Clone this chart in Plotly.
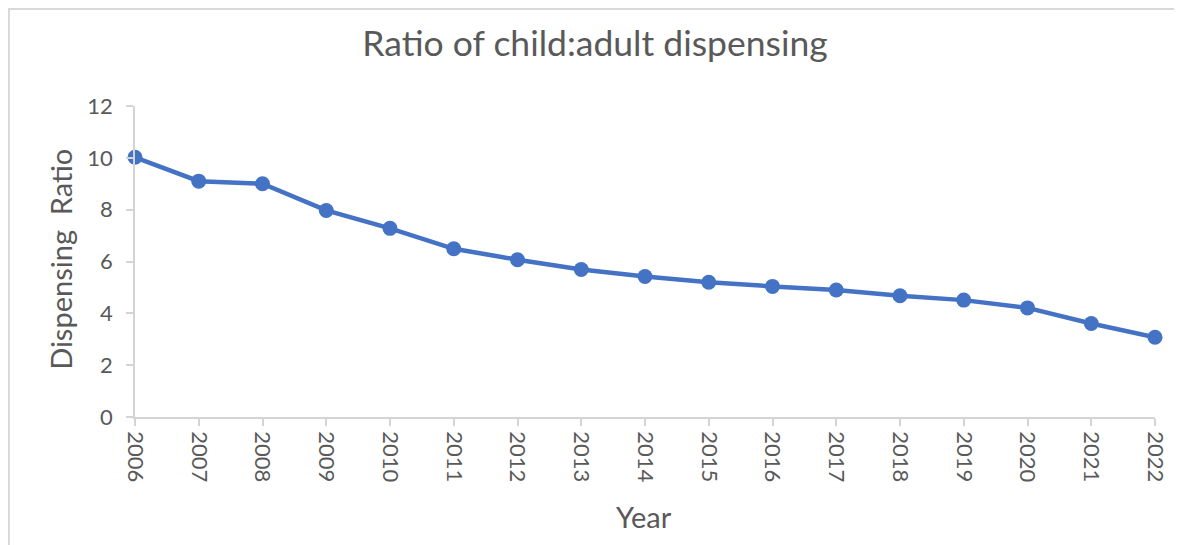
import plotly.graph_objects as go

years = [2006, 2007, 2008, 2009, 2010, 2011, 2012, 2013, 2014, 2015, 2016,
         2017, 2018, 2019, 2020, 2021, 2022]
ratio = [10.02, 9.10, 9.00, 7.97, 7.28, 6.49, 6.07, 5.69, 5.42, 5.20, 5.04,
         4.90, 4.68, 4.51, 4.21, 3.61, 3.08]
y_ticks = [0, 2, 4, 6, 8, 10, 12]

OFF = 8  # page body margin
W, H = 1182 - OFF, 545 - OFF
L = 135 - OFF
T = 106 - OFF
R = W - (1155 - OFF)
B = H - (417.3 - OFF)
pw = W - L - R
ph = H - T - B


def px(page_x):
    return (page_x - OFF - L) / pw


def py(page_y):
    return (H - B - (page_y - OFF)) / ph


font_family = "Lato, 'Open Sans', sans-serif"
txt = "#595959"
axis_grey = "#D4D4D4"

fig = go.Figure()
fig.add_trace(go.Scatter(
    x=years, y=ratio, mode="lines+markers",
    line=dict(color="#4472C4", width=4.5),
    marker=dict(color="#4472C4", size=15),
    cliponaxis=False, showlegend=False,
))

fig.update_layout(
    width=W, height=H,
    margin=dict(l=L, r=R, t=T, b=B),
    paper_bgcolor="white", plot_bgcolor="white",
    font=dict(family=font_family, color=txt),
    title=dict(text="Ratio of child:adult dispensing", x=(595 - OFF) / W, xanchor="center",
               y=1 - (44 - OFF) / H, yanchor="middle", yref="container",
               font=dict(size=35.5, color=txt, family=font_family)),
    xaxis=dict(
        range=[years[0], years[-1]], tickmode="array", tickvals=years,
        ticktext=[str(y) for y in years], tickangle=90,
        showgrid=False, zeroline=False, showline=True, linecolor=axis_grey, linewidth=1.5,
        ticks="outside", ticklen=7, tickcolor=axis_grey, tickwidth=1.5,
        tickfont=dict(size=22, color=txt), ticklabelstandoff=1,
    ),
    yaxis=dict(
        range=[0, 12], tickmode="array", tickvals=y_ticks,
        showgrid=False, zeroline=False, showline=True, linecolor=axis_grey, linewidth=1.5,
        ticks="outside", ticklen=7, tickcolor=axis_grey, tickwidth=1.5,
        tickfont=dict(size=22, color=txt), ticklabelstandoff=9,
    ),
)

fig.add_annotation(text="Year", xref="paper", yref="paper", x=px(644), y=py(517),
                   xanchor="center", yanchor="middle", showarrow=False,
                   font=dict(size=29, color=txt, family=font_family))
fig.add_annotation(text="Dispensing  Ratio", xref="paper", yref="paper", x=px(61), y=py(260),
                   xanchor="center", yanchor="middle", showarrow=False, textangle=-90,
                   font=dict(size=29, color=txt, family=font_family))

# chart outer frame (cropped at right and bottom in the reference)
fig.add_shape(type="rect", xref="paper", yref="paper",
              x0=(1 - L) / pw, x1=(W + 20 - L) / pw,
              y0=(-40 - B) / ph, y1=(H - 1 - B) / ph,
              line=dict(color="#D9D9D9", width=2), layer="below")

fig.write_html("out.html")
